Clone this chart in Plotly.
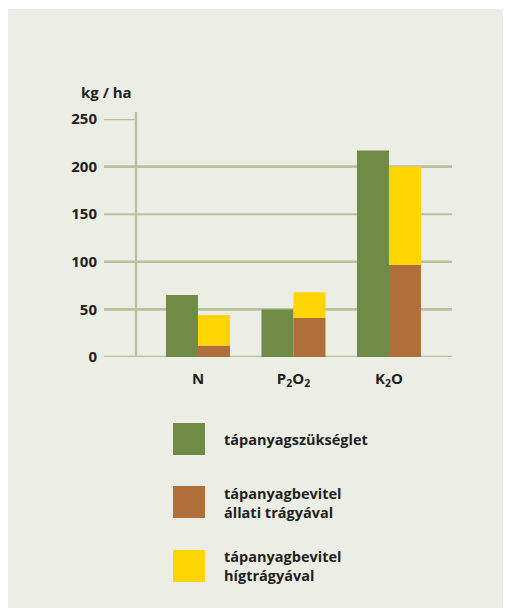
import plotly.graph_objects as go

# ---- data ----
categories = ["N", "P<sub>2</sub>O<sub>2</sub>", "K<sub>2</sub>O"]
need = [65, 50, 217]            # tápanyagszükséglet
manure = [12, 41, 97]           # tápanyagbevitel állati trágyával
slurry = [32, 27, 103]          # tápanyagbevitel hígtrágyával (stacked on manure)
y_ticks = [0, 50, 100, 150, 200, 250]
series_names = ["tápanyagszükséglet",
                "tápanyagbevitel<br>állati trágyával",
                "tápanyagbevitel<br>hígtrágyával"]

GREEN = "#6F8B45"
BROWN = "#B06E38"
YELLOW = "#FFD500"
BG = "#ECEEE6"
GRID = "#B8C09C"
TXT = "#231F20"
FONT = "Open Sans"

OFF = 8                      # page body margin
W, H = 511, 608 - OFF
L, R, T, B = 104 - OFF, 452 - OFF, 119 - OFF, 357 - OFF   # plot area in figure pixels


def px(x):
    """page pixel x -> paper coordinate"""
    return (x - OFF - L) / (R - L)


def py(y):
    """page pixel y -> paper coordinate"""
    return (B - (y - OFF)) / (B - T)


fig = go.Figure()
fig.add_trace(go.Bar(x=categories, y=need, name=series_names[0], marker_color=GREEN,
                     width=0.335, offset=-0.335, marker_line_width=0))
fig.add_trace(go.Bar(x=categories, y=manure, name=series_names[1], marker_color=BROWN,
                     width=0.335, offset=0, marker_line_width=0))
fig.add_trace(go.Bar(x=categories, y=slurry, base=manure, name=series_names[2],
                     marker_color=YELLOW, width=0.335, offset=0, marker_line_width=0))

shapes = []
# background panel (white strip at top and left)
shapes.append(dict(type="rect", xref="paper", yref="paper", x0=px(7), x1=px(530),
                   y0=py(9), y1=py(620), fillcolor=BG, line_width=0, layer="below"))
# gridlines
for v in y_ticks:
    x1 = px(136) if v == 250 else 1
    w = 2 if v == 150 else 2.6
    shapes.append(dict(type="line", xref="paper", yref="y", x0=0, x1=x1, y0=v, y1=v,
                       line=dict(color=GRID, width=w), layer="below"))
# vertical axis line
shapes.append(dict(type="line", xref="paper", yref="paper", x0=px(136), x1=px(136),
                   y0=0, y1=py(112), line=dict(color=GRID, width=2.4), layer="below"))

# manual legend
legend_colors = [GREEN, BROWN, YELLOW]
legend_tops = [423, 486, 550]
annotations = []
for c, top in zip(legend_colors, legend_tops):
    shapes.append(dict(type="rect", xref="paper", yref="paper", x0=px(173), x1=px(205),
                       y0=py(top + 32), y1=py(top), fillcolor=c, line_width=0))
legend_text_y = [439, 502.5, 566]
for yy, name in zip(legend_text_y, series_names):
    annotations.append(dict(xref="paper", yref="paper", x=px(222), y=py(yy), text=name,
                            showarrow=False, xanchor="left", yanchor="middle", align="left",
                            font=dict(family=FONT, size=14.5, color=TXT, weight="bold")))
annotations.append(dict(xref="paper", yref="paper", x=px(79), y=py(92), text="kg / ha",
                        showarrow=False, xanchor="left", yanchor="middle",
                        font=dict(family=FONT, size=15, color=TXT, weight="bold")))

fig.update_layout(
    width=W, height=H,
    margin=dict(l=L, r=W - R, t=T, b=H - B, pad=0),
    paper_bgcolor="white",
    plot_bgcolor="rgba(0,0,0,0)",
    barmode="overlay",
    showlegend=False,
    shapes=shapes,
    annotations=annotations,
    font=dict(family=FONT, size=15, color=TXT),
    xaxis=dict(type="category", range=[-0.984, 2.66], showgrid=False, zeroline=False,
               showline=False, ticks="", ticklabelstandoff=11,
               tickfont=dict(family=FONT, size=15, color=TXT, weight="bold")),
    yaxis=dict(range=[0, 250], tickvals=y_ticks, showgrid=False, zeroline=False,
               showline=False, ticks="", ticklabelstandoff=6,
               tickfont=dict(family=FONT, size=15, color=TXT, weight="bold")),
)

fig.write_html("out.html")
